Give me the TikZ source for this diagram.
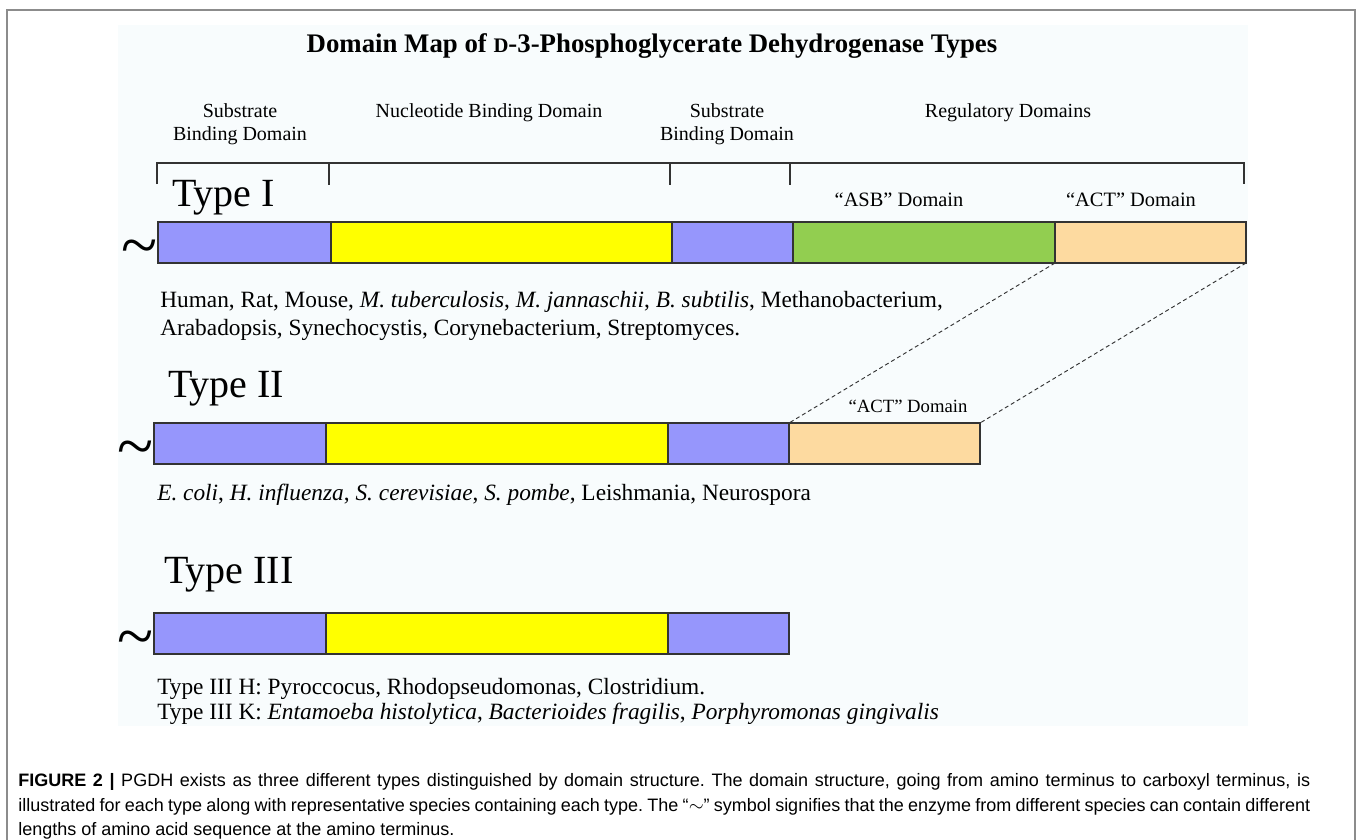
\documentclass[tikz,border=0pt]{standalone}
\usepackage{fontspec}
\setmainfont{Liberation Serif}
\newfontfamily\capfont{Liberation Sans}
\usetikzlibrary{positioning}
\definecolor{sbdblue}{HTML}{9696FC}
\definecolor{nbdyellow}{HTML}{FFFF00}
\definecolor{asbgreen}{HTML}{92CE50}
\definecolor{actpeach}{HTML}{FDDAA0}
\definecolor{panelbg}{HTML}{F8FCFD}
\definecolor{framegray}{HTML}{8C8C8C}
\frenchspacing

\begin{document}
\begin{tikzpicture}[x=0.75pt, y=-0.75pt,
    seg/.style={draw=black!80, line width=1.1pt, inner sep=0pt, outer sep=0pt,
                minimum height=30.75pt, anchor=north west},
    head/.style={font=\fontsize{15}{18}\selectfont, anchor=base, inner sep=0pt},
    dom/.style={font=\fontsize{14}{16}\selectfont, anchor=base, inner sep=0pt},
    typelbl/.style={font=\fontsize{30}{32}\selectfont, anchor=base west, inner sep=0pt},
    species/.style={font=\fontsize{17.5}{20}\selectfont, anchor=base west, inner sep=0pt},
    nterm/.style={font=\fontsize{50}{50}\selectfont, anchor=base, inner sep=0pt},
    capline/.style={font=\capfont\fontsize{13.5}{16}\selectfont, anchor=base west, inner sep=0pt},
    brk/.style={draw=black!80, line width=1.1pt}
  ]
  \useasboundingbox (0,0) rectangle (1358,839);
  \clip (0,0) rectangle (1358,839);
  \fill[white] (0,0) rectangle (1358,839);
  \draw[framegray, line width=1.5pt] (7,10) rectangle (1355,860);
  \fill[panelbg] (118,25) rectangle (1248,726);

  % title and domain headings
  \node[font=\bfseries\fontsize{20.1}{22}\selectfont, anchor=base, inner sep=0pt] (title) at (652,52)
    {Domain Map of {\fontsize{15.5}{15}\selectfont D}-3-Phosphoglycerate Dehydrogenase Types};
  \node[head] (hsbd1) at (240,117) {Substrate};
  \node[head] (hsbd1b) at (240,140) {Binding Domain};
  \node[head] (hnbd) at (489,117) {Nucleotide Binding Domain};
  \node[head] (hsbd2) at (727,117) {Substrate};
  \node[head] (hsbd2b) at (727,140) {Binding Domain};
  \node[head] (hreg) at (1008,117) {Regulatory Domains};

  % bracket over type I
  \draw[brk] (157,184) -- (157,163) -- (1244,163) -- (1244,184);
  \draw[brk] (329,163) -- (329,185);
  \draw[brk] (670,163) -- (670,185);
  \draw[brk] (790,163) -- (790,185);

  % Type I
  \node[typelbl] (t1) at (172,206) {Type I};
  \node[seg, fill=sbdblue, minimum width=129.75pt] (a1) at (158,222) {};
  \node[seg, fill=nbdyellow, minimum width=255.75pt, right=0pt of a1] (b1) {};
  \node[seg, fill=sbdblue, minimum width=90.75pt, right=0pt of b1] (c1) {};
  \node[seg, fill=asbgreen, minimum width=196.5pt, right=0pt of c1] (asb1) {};
  \node[seg, fill=actpeach, minimum width=143.25pt, right=0pt of asb1] (act1) {};
  \node[nterm] (n1) at (140,267) {\textasciitilde};
  \node[dom, font=\fontsize{15.3}{17}\selectfont] (lasb1) at (899,206) {“ASB” Domain};
  \node[dom, font=\fontsize{15.3}{17}\selectfont] (lact1) at (1131,206) {“ACT” Domain};
  \node[species] (sp1) at (160,307)
    {Human, Rat, Mouse, \textit{M. tuberculosis}, \textit{M. jannaschii}, \textit{B. subtilis}, Methanobacterium,};
  \node[species] (sp1b) at (160,335)
    {Arabadopsis, Synechocystis, Corynebacterium, Streptomyces.};

  % Type II
  \node[typelbl] (t2) at (168,397) {Type II};
  \node[seg, fill=sbdblue, minimum width=129pt] (a2) at (154,423) {};
  \node[seg, fill=nbdyellow, minimum width=256.5pt, right=0pt of a2] (b2) {};
  \node[seg, fill=sbdblue, minimum width=90.75pt, right=0pt of b2] (c2) {};
  \node[seg, fill=actpeach, minimum width=143.25pt, right=0pt of c2] (act2) {};
  \node[nterm] (n2) at (136,468) {\textasciitilde};
  \node[dom] (lact2) at (908,412) {“ACT” Domain};
  \draw[black!80, dashed, dash pattern=on 3pt off 2.2pt, line width=0.7pt]
    (act1.south west) -- (act2.north west)
    (act1.south east) -- (act2.north east);
  \node[species] (sp2) at (157,500)
    {\textit{E. coli}, \textit{H. influenza}, \textit{S. cerevisiae}, \textit{S. pombe}, Leishmania, Neurospora};

  % Type III
  \node[typelbl] (t3) at (164,583) {Type III};
  \node[seg, fill=sbdblue, minimum width=129pt] (a3) at (154,613) {};
  \node[seg, fill=nbdyellow, minimum width=256.5pt, right=0pt of a3] (b3) {};
  \node[seg, fill=sbdblue, minimum width=90.75pt, right=0pt of b3] (c3) {};
  \node[nterm] (n3) at (136,658) {\textasciitilde};
  \node[species] (sp3) at (157,694) {Type III H: Pyroccocus, Rhodopseudomonas, Clostridium.};
  \node[species] (sp3b) at (157,719)
    {Type III K: \textit{Entamoeba histolytica}, \textit{Bacterioides fragilis}, \textit{Porphyromonas gingivalis}};

  % caption
  \node[capline] (cap1) at (18,786)
    {\makebox[969pt][s]{\textbf{FIGURE 2 |} PGDH exists as three different types distinguished by domain structure. The domain structure, going from amino terminus to carboxyl terminus, is}};
  \node[capline] (cap2) at (18,811)
    {\makebox[969pt][s]{illustrated for each type along with representative species containing each type. The “$\sim$” symbol signifies that the enzyme from different species can contain different}};
  \node[capline] (cap3) at (18,835) {lengths of amino acid sequence at the amino terminus.};
\end{tikzpicture}
\end{document}
